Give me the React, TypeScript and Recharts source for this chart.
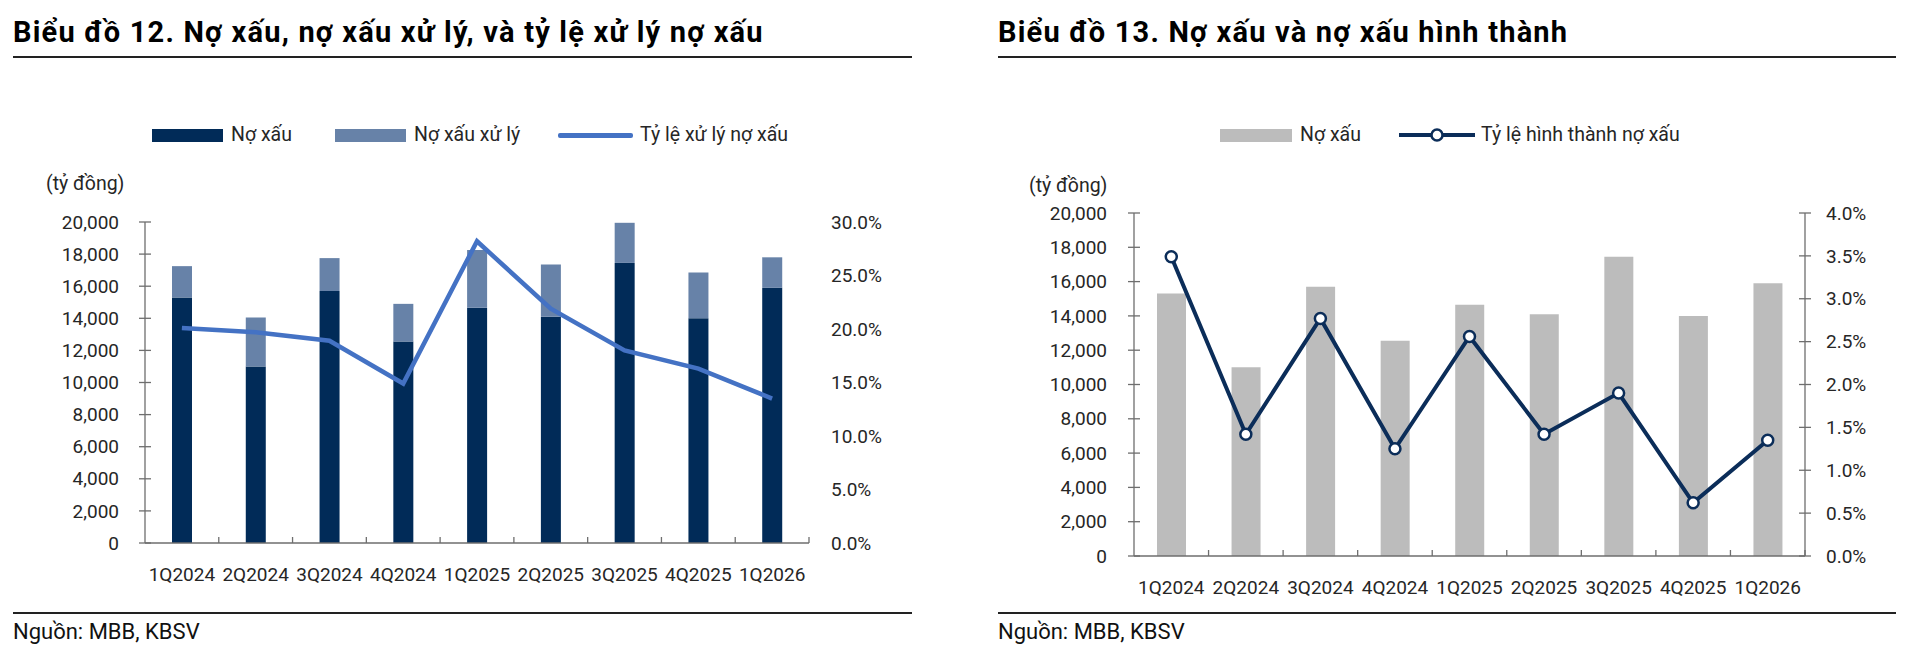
import { ComposedChart, Bar, Line, XAxis, YAxis } from 'recharts';

const categories = ['1Q2024', '2Q2024', '3Q2024', '4Q2024', '1Q2025', '2Q2025', '3Q2025', '4Q2025', '1Q2026'];
// tỷ đồng
const npl = [15300, 11000, 15700, 12550, 14650, 14100, 17450, 14000, 15900];
const nplWrittenOff = [1950, 3050, 2050, 2350, 3600, 3250, 2500, 2850, 1900];
// %
const writeOffRatio = [20.1, 19.7, 18.9, 14.9, 28.2, 21.9, 18.0, 16.3, 13.5];
const formationRate = [3.49, 1.42, 2.77, 1.25, 2.56, 1.42, 1.9, 0.62, 1.35];

const leftTicks = [0, 2000, 4000, 6000, 8000, 10000, 12000, 14000, 16000, 18000, 20000];
const ratioTicks = [0, 5, 10, 15, 20, 25, 30];
const formationTicks = [0, 0.5, 1, 1.5, 2, 2.5, 3, 3.5, 4];

const FONT = 'Roboto, "Noto Sans", sans-serif';
const TEXT = '#262626';
const AXIS = '#6e6e6e';
const DARK = '#012b58';
const LIGHT = '#6782a8';
const BLUE = '#4472c4';
const GREY = '#bcbcbc';
const NAVY = '#0b2d59';

const data = categories.map((q, i) => ({
  quarter: q,
  npl: npl[i],
  writtenOff: nplWrittenOff[i],
  ratio: writeOffRatio[i],
  formation: formationRate[i],
}));

const fmtNum = (v: number) => v.toLocaleString('en-US');

// category label + small upward tick on the right edge of each band
function XTick(props: any) {
  const { x, y, payload } = props;
  const off = payload?.offset ?? 0;
  return (
    <g>
      {off > 0 && <line x1={x + off} x2={x + off} y1={y} y2={y - 6} stroke={AXIS} strokeWidth={1.3} />}
      <text x={x} y={y + 31} dy="0.35em" textAnchor="middle" fill={TEXT} fontSize={19} fontFamily={FONT}>
        {payload.value}
      </text>
    </g>
  );
}

function YTickLeft(props: any) {
  const { x, y, payload, gap } = props;
  return (
    <g>
      <line x1={x - 6} x2={x + 6} y1={y} y2={y} stroke={AXIS} strokeWidth={1.3} />
      <text x={x - gap} y={y} dy="0.35em" textAnchor="end" fill={TEXT} fontSize={19} fontFamily={FONT}>
        {fmtNum(payload.value)}
      </text>
    </g>
  );
}

function YTickRight(props: any) {
  const { x, y, payload, gap, cross } = props;
  return (
    <g>
      {cross && <line x1={x - 6} x2={x + 6} y1={y} y2={y} stroke={AXIS} strokeWidth={1.3} />}
      <text x={x + gap} y={y} dy="0.35em" textAnchor="start" fill={TEXT} fontSize={19} fontFamily={FONT}>
        {`${Number(payload.value).toFixed(1)}%`}
      </text>
    </g>
  );
}

function Header({ left, width, title }: { left: number; width: number; title: string }) {
  return (
    <>
      <div style={{ position: 'absolute', left, top: 13, fontSize: 29, lineHeight: '38px', fontWeight: 700, letterSpacing: 1.2, color: '#000', whiteSpace: 'nowrap' }}>
        {title}
      </div>
      <div style={{ position: 'absolute', left, top: 56, width, height: 2, background: '#222' }} />
      <div style={{ position: 'absolute', left, top: 612, width, height: 2, background: '#222' }} />
      <div style={{ position: 'absolute', left, top: 619, fontSize: 22, lineHeight: '26px', color: '#111', whiteSpace: 'nowrap' }}>
        Nguồn: MBB, KBSV
      </div>
    </>
  );
}

const legendText: React.CSSProperties = { position: 'absolute', top: 124, fontSize: 19.5, lineHeight: '22px', color: TEXT, whiteSpace: 'nowrap' };

function LeftChart() {
  return (
    <>
      <div style={{ position: 'absolute', left: 152, top: 129, width: 71, height: 13, background: DARK }} />
      <div style={{ ...legendText, left: 231 }}>Nợ xấu</div>
      <div style={{ position: 'absolute', left: 335, top: 129, width: 71, height: 13, background: LIGHT }} />
      <div style={{ ...legendText, left: 414 }}>Nợ xấu xử lý</div>
      <div style={{ position: 'absolute', left: 558, top: 133, width: 75, height: 4.5, borderRadius: 2, background: BLUE }} />
      <div style={{ ...legendText, left: 640 }}>Tỷ lệ xử lý nợ xấu</div>
      <div style={{ ...legendText, left: 46, top: 173 }}>(tỷ đồng)</div>

      <div style={{ position: 'absolute', left: 0, top: 200 }}>
        <ComposedChart width={960} height={420} data={data} margin={{ top: 22, right: 81, bottom: 27, left: 85 }} barSize={20}>
          <XAxis
            dataKey="quarter"
            height={50}
            interval={0}
            tickSize={0}
            tickMargin={0}
            tickLine={false}
            axisLine={{ stroke: AXIS, strokeWidth: 1.3 }}
            tick={(p: any) => <XTick {...p} />}
          />
          <YAxis
            yAxisId="left"
            width={60}
            domain={[0, 20000]}
            ticks={leftTicks}
            interval={0}
            tickSize={0}
            tickMargin={0}
            tickLine={false}
            axisLine={{ stroke: AXIS, strokeWidth: 1.3 }}
            tick={(p: any) => <YTickLeft {...p} gap={26} />}
          />
          <YAxis
            yAxisId="right"
            orientation="right"
            width={70}
            domain={[0, 30]}
            ticks={ratioTicks}
            interval={0}
            tickSize={0}
            tickMargin={0}
            tickLine={false}
            axisLine={false}
            tick={(p: any) => <YTickRight {...p} gap={22} cross={false} />}
          />
          <Bar yAxisId="left" dataKey="npl" stackId="a" fill={DARK} isAnimationActive={false} />
          <Bar yAxisId="left" dataKey="writtenOff" stackId="a" fill={LIGHT} isAnimationActive={false} />
          <Line yAxisId="right" type="linear" dataKey="ratio" stroke={BLUE} strokeWidth={4.5} dot={false} isAnimationActive={false} />
        </ComposedChart>
      </div>
    </>
  );
}

function RightChart() {
  return (
    <>
      <div style={{ position: 'absolute', left: 1220, top: 129, width: 72, height: 13, background: GREY }} />
      <div style={{ ...legendText, left: 1300 }}>Nợ xấu</div>
      <svg style={{ position: 'absolute', left: 1399, top: 126 }} width={76} height={18}>
        <line x1={0} x2={76} y1={9} y2={9} stroke={NAVY} strokeWidth={4} />
        <circle cx={38} cy={9} r={5.5} fill="#fff" stroke={NAVY} strokeWidth={2.5} />
      </svg>
      <div style={{ ...legendText, left: 1481 }}>Tỷ lệ hình thành nợ xấu</div>
      <div style={{ ...legendText, left: 1029, top: 175 }}>(tỷ đồng)</div>

      <div style={{ position: 'absolute', left: 960, top: 190 }}>
        <ComposedChart width={960} height={430} data={data} margin={{ top: 23, right: 45, bottom: 14, left: 114 }} barSize={29}>
          <XAxis
            dataKey="quarter"
            height={50}
            interval={0}
            tickSize={0}
            tickMargin={0}
            tickLine={false}
            axisLine={{ stroke: AXIS, strokeWidth: 1.3 }}
            tick={(p: any) => <XTick {...p} />}
          />
          <YAxis
            yAxisId="left"
            width={60}
            domain={[0, 20000]}
            ticks={leftTicks}
            interval={0}
            tickSize={0}
            tickMargin={0}
            tickLine={false}
            axisLine={{ stroke: AXIS, strokeWidth: 1.3 }}
            tick={(p: any) => <YTickLeft {...p} gap={27} />}
          />
          <YAxis
            yAxisId="right"
            orientation="right"
            width={70}
            domain={[0, 4]}
            ticks={formationTicks}
            interval={0}
            tickSize={0}
            tickMargin={0}
            tickLine={false}
            axisLine={{ stroke: AXIS, strokeWidth: 1.3 }}
            tick={(p: any) => <YTickRight {...p} gap={21} cross={true} />}
          />
          <Bar yAxisId="left" dataKey="npl" fill={GREY} isAnimationActive={false} />
          <Line
            yAxisId="right"
            type="linear"
            dataKey="formation"
            stroke={NAVY}
            strokeWidth={4}
            dot={{ r: 5.5, fill: '#fff', stroke: NAVY, strokeWidth: 2.5 }}
            isAnimationActive={false}
          />
        </ComposedChart>
      </div>
    </>
  );
}

export default function App() {
  return (
    <div style={{ position: 'absolute', left: 0, top: 0, width: 1920, height: 655, background: '#fff', fontFamily: FONT, overflow: 'hidden' }}>
      <Header left={13} width={899} title="Biểu đồ 12. Nợ xấu, nợ xấu xử lý, và tỷ lệ xử lý nợ xấu" />
      <Header left={998} width={898} title="Biểu đồ 13. Nợ xấu và nợ xấu hình thành" />
      <LeftChart />
      <RightChart />
    </div>
  );
}
